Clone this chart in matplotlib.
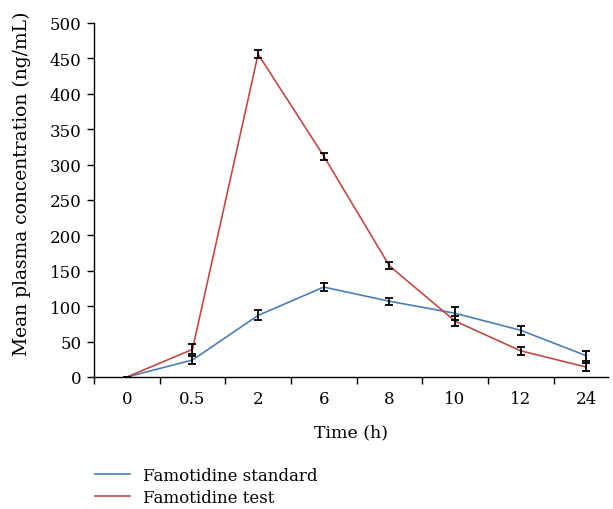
import matplotlib
matplotlib.use("Agg")
import matplotlib.pyplot as plt
from matplotlib.lines import Line2D
import numpy as np

plt.rcParams['font.family'] = ['DejaVu Serif']

time_labels = ["0", "0.5", "2", "6", "8", "10", "12", "24"]
standard = [0, 24, 87, 127, 107, 90, 66, 30]
standard_err = [0, 6, 7, 6, 5, 9, 6, 7]
test = [0, 39, 456, 312, 157, 79, 37, 14]
test_err = [0, 7, 6, 5, 5, 7, 6, 6]

blue = "#4a7ebb"
red = "#be4b48"

fig = plt.figure(figsize=(6.13, 5.10), dpi=100)
ax = fig.add_axes([94/613, 1 - 378/510, (608-94)/613, (378-24)/510])
x = np.arange(len(time_labels))

ax.plot(x, standard, color=blue, lw=1.2, zorder=2)
ax.plot(x, test, color=red, lw=1.2, zorder=2)
ax.errorbar(x, standard, yerr=standard_err, fmt='none', ecolor='black', elinewidth=1.3, capsize=3, capthick=1.3, zorder=3)
ax.errorbar(x, test, yerr=test_err, fmt='none', ecolor='black', elinewidth=1.3, capsize=3, capthick=1.3, zorder=3)

ax.set_xlim(-0.5, 7.33)
ax.set_ylim(0, 500)
ax.set_yticks(np.arange(0, 501, 50))
ax.set_xticks(x)
ax.set_xticklabels(time_labels)
ax.set_xticks(np.arange(-0.5, 7.5, 1), minor=True)
ax.tick_params(axis='x', which='major', length=0, labelsize=12, pad=9)
ax.tick_params(axis='x', which='minor', length=5, direction='out', width=1)
ax.tick_params(axis='y', length=5, direction='out', width=1, labelsize=12, pad=4)
for s in ['top', 'right']:
    ax.spines[s].set_visible(False)
for s in ['left', 'bottom']:
    ax.spines[s].set_linewidth(1)
ax.set_xlabel("Time (h)", fontsize=12.5, labelpad=12)
ax.set_ylabel("Mean plasma concentration (ng/mL)", fontsize=13.5, va='center')
ax.yaxis.set_label_coords(-0.14, 0.55)

handles = [Line2D([], [], color=blue, lw=1.2), Line2D([], [], color=red, lw=1.2)]
fig.legend(handles, ["Famotidine standard", "Famotidine test"], loc='upper left',
           bbox_to_anchor=(80/613, 1 - 453/510), frameon=False, fontsize=12,
           handlelength=2.1, handletextpad=0.8, labelspacing=0.3)

fig.savefig("out.png", dpi=100)
